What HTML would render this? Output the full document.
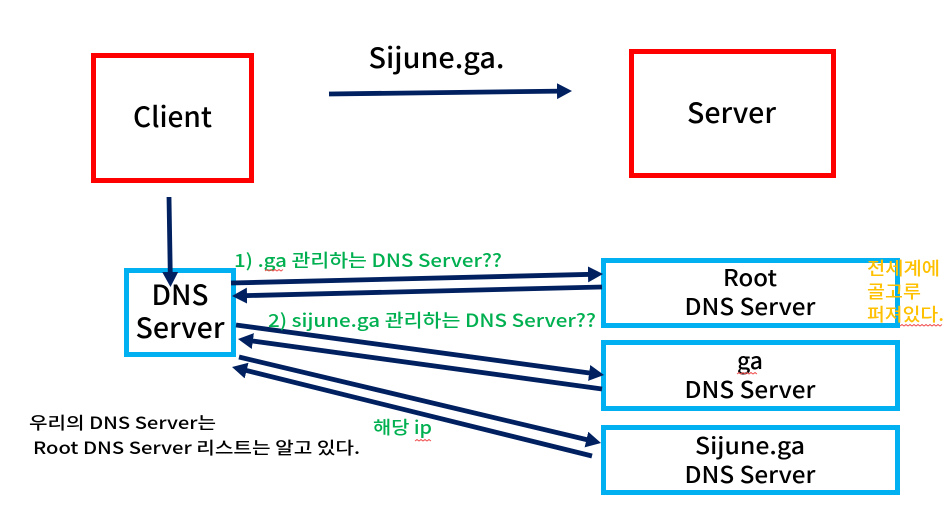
<!DOCTYPE html>
<html>
<head>
<meta charset="utf-8">
<style>
html,body{margin:0;padding:0;background:#fff;}
svg{display:block;}
text{font-family:"Noto Sans CJK KR","NanumGothic",sans-serif;}
</style>
</head>
<body>
<svg width="948" height="515" viewBox="0 0 948 515" xmlns="http://www.w3.org/2000/svg">
<defs>
<marker id="a" markerUnits="userSpaceOnUse" markerWidth="16" markerHeight="17" refX="4" refY="8.5" orient="auto">
<polygon points="0,0.5 15,8.500 0,16.500" fill="#002060"/>
</marker>
</defs>
<rect width="948" height="515" fill="#fff"/>

<g fill="none" stroke="#ff0000" stroke-width="5">
<rect x="93.5" y="55.5" width="158" height="125"/>
<rect x="631.500" y="51.500" width="202" height="124"/>
</g>
<g fill="none" stroke="#00b0f0" stroke-width="5">
<rect x="126.500" y="270.500" width="107" height="84"/>
<rect x="603.500" y="260.500" width="294" height="65"/>
<rect x="603.500" y="342.500" width="294" height="66"/>
<rect x="603.500" y="427.500" width="294" height="65"/>
</g>

<g fill="none" stroke="#002060" stroke-width="4.8">
<line x1="329" y1="94" x2="561" y2="91.100" marker-end="url(#a)"/>
<line x1="169" y1="197" x2="170.300" y2="276" marker-end="url(#a)"/>
<line x1="231" y1="283" x2="592" y2="274.300" marker-end="url(#a)"/>
<line x1="602" y1="287" x2="243" y2="295.700" marker-end="url(#a)"/>
<line x1="236" y1="325" x2="593.100" y2="373.500" marker-end="url(#a)"/>
<line x1="602" y1="389" x2="248.900" y2="340.500" marker-end="url(#a)"/>
<line x1="239" y1="357" x2="590.300" y2="440.500" marker-end="url(#a)"/>
<line x1="592" y1="456" x2="242.700" y2="369.600" marker-end="url(#a)"/>
</g>

<g fill="#000" text-anchor="middle" font-weight="500">
<text x="172.500" y="127" font-size="28" textLength="79" lengthAdjust="spacingAndGlyphs">Client</text>
<text x="731.500" y="123" font-size="28" textLength="89" lengthAdjust="spacingAndGlyphs">Server</text>
<text x="436.500" y="68" font-size="28" textLength="136" lengthAdjust="spacingAndGlyphs">Sijune.ga.</text>
<text x="180" y="305" font-size="28" textLength="57" lengthAdjust="spacingAndGlyphs">DNS</text>
<text x="180" y="338" font-size="28" textLength="89" lengthAdjust="spacingAndGlyphs">Server</text>
</g>
<g fill="#000" text-anchor="middle" font-size="23" font-weight="500">
<text x="750" y="286" textLength="54" lengthAdjust="spacingAndGlyphs">Root</text>
<text x="750" y="315" textLength="131" lengthAdjust="spacingAndGlyphs">DNS Server</text>
<text x="750" y="369" textLength="26" lengthAdjust="spacingAndGlyphs">ga</text>
<text x="750" y="398" textLength="131" lengthAdjust="spacingAndGlyphs">DNS Server</text>
<text x="750" y="454" textLength="110" lengthAdjust="spacingAndGlyphs">Sijune.ga</text>
<text x="750" y="483" textLength="131" lengthAdjust="spacingAndGlyphs">DNS Server</text>
</g>

<g fill="#00b050" font-size="18" font-weight="500">
<text x="234" y="267" textLength="268" lengthAdjust="spacingAndGlyphs">1) .ga 관리하는 DNS Server??</text>
<text x="268" y="327" textLength="328" lengthAdjust="spacingAndGlyphs">2) sijune.ga 관리하는 DNS Server??</text>
<text x="373" y="434" textLength="59" lengthAdjust="spacingAndGlyphs">해당 ip</text>
</g>

<g fill="#ffc000" font-size="18" font-weight="500">
<text x="867" y="275" textLength="73" lengthAdjust="spacingAndGlyphs">전세계에</text>
<text x="867" y="298" textLength="54" lengthAdjust="spacingAndGlyphs">골고루</text>
<text x="867" y="321" textLength="77" lengthAdjust="spacingAndGlyphs">퍼져있다.</text>
</g>

<g fill="#000" font-size="17" font-weight="500">
<text x="29" y="429" textLength="187" lengthAdjust="spacingAndGlyphs">우리의 DNS Server는</text>
<text x="33" y="454" textLength="327" lengthAdjust="spacingAndGlyphs">Root DNS Server 리스트는 알고 있다.</text>
</g>

<g fill="none" stroke="#f05050" stroke-width="1">
<path d="M265 271 l2 -1.500 l2 1.500 l2 -1.500 l2 1.500 l2 -1.500 l2 1.500 l2 -1.500 l2 1.500 l2 -1.500"/>
<path d="M737 374 l2 -1.500 l2 1.500 l2 -1.500 l2 1.500 l2 -1.500 l2 1.500 l2 -1.500 l2 1.500 l2 -1.500 l2 1.500"/>
<path d="M900 326 l2 -1.500 l2 1.500 l2 -1.500 l2 1.500 l2 -1.500 l2 1.500 l2 -1.500 l2 1.500 l2 -1.500 l2 1.500 l2 -1.500 l2 1.500 l2 -1.500 l2 1.500 l2 -1.500 l2 1.500 l2 -1.500 l2 1.500 l2 -1.500 l2 1.500 l2 -1.500"/>
<path d="M415 441 l2 -1.500 l2 1.500 l2 -1.500 l2 1.500 l2 -1.500 l2 1.500 l2 -1.500 l2 1.500"/>
</g>
</svg>
</body>
</html>
